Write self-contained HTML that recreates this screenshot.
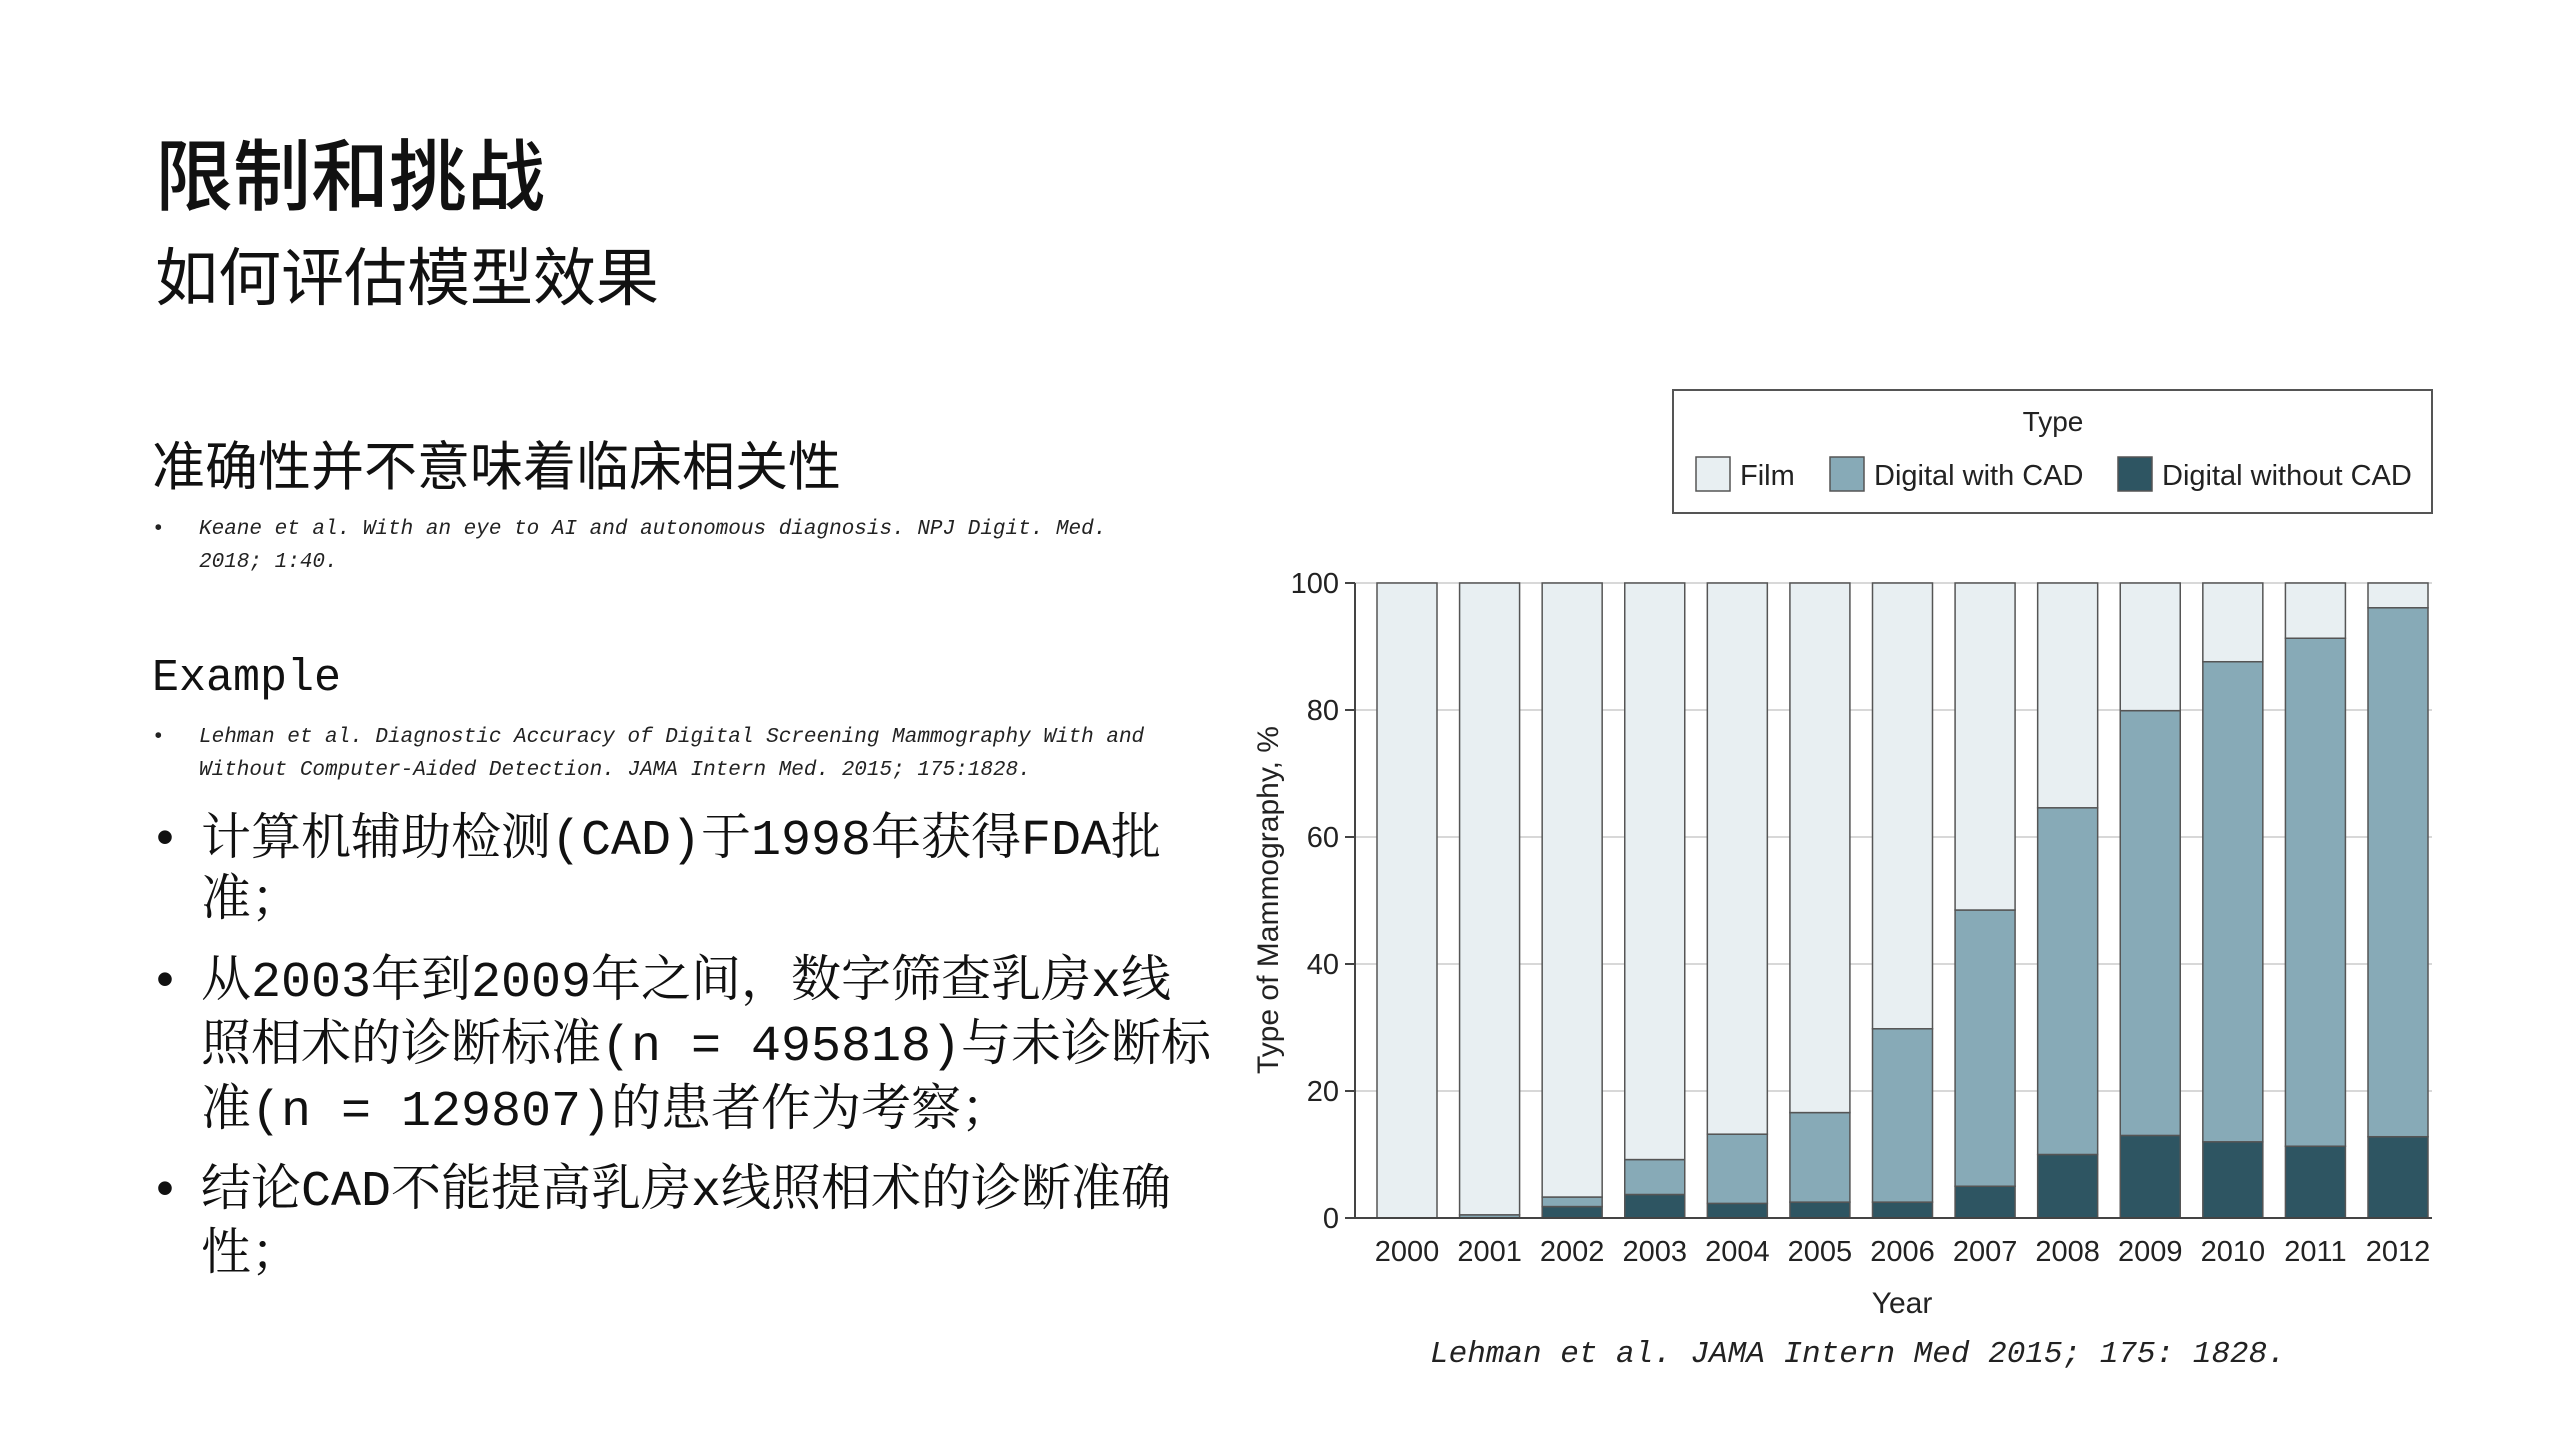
<!DOCTYPE html>
<html><head><meta charset="utf-8"><style>
html,body{margin:0;padding:0;background:#fff;}
svg{display:block;}
.cjk{font-family:"Liberation Mono","Noto Serif CJK SC",serif;fill:#111;}
.ref{font-family:"Liberation Mono",monospace;font-style:italic;font-size:21px;fill:#222;}
.ax{font-family:"Liberation Sans","DejaVu Sans",sans-serif;fill:#222;}
</style></head><body>
<svg id="page" width="2560" height="1440" viewBox="0 0 2560 1440">
<text x="155" y="204" class="cjk" font-size="78" style="font-family:'Noto Sans CJK SC',sans-serif;font-weight:500">限制和挑战</text>
<text x="155" y="300" class="cjk" font-size="63" style="font-family:'Noto Sans CJK SC',sans-serif">如何评估模型效果</text>
<text x="152" y="485" class="cjk" font-size="53" style="font-family:'Noto Sans CJK SC',sans-serif">准确性并不意味着临床相关性</text>
<g>
<text x="152" y="534" class="ref" style="font-style:normal">•</text>
<text x="199" y="534" class="ref">Keane et al. With an eye to AI and autonomous diagnosis. NPJ Digit. Med.</text>
<text x="199" y="567" class="ref">2018; 1:40.</text>
</g>
<text x="152" y="690" font-size="45" style="font-family:'Liberation Mono',monospace;fill:#111">Example</text>
<g>
<text x="152" y="742" class="ref" style="font-style:normal">•</text>
<text x="199" y="742" class="ref">Lehman et al. Diagnostic Accuracy of Digital Screening Mammography With and</text>
<text x="199" y="775" class="ref">Without Computer-Aided Detection. JAMA Intern Med. 2015; 175:1828.</text>
</g>
<g class="cjk" font-size="50">
<text x="150" y="854">•</text>
<text x="201" y="854">计算机辅助检测(CAD)于1998年获得FDA批</text>
<text x="201" y="915">准；</text>
<text x="150" y="996">•</text>
<text x="201" y="996">从2003年到2009年之间，数字筛查乳房x线</text>
<text x="201" y="1060">照相术的诊断标准(n = 495818)与未诊断标</text>
<text x="201" y="1125">准(n = 129807)的患者作为考察；</text>
<text x="150" y="1205">•</text>
<text x="201" y="1205">结论CAD不能提高乳房x线照相术的诊断准确</text>
<text x="201" y="1269">性；</text>
</g>
<g>
<rect x="1673" y="390" width="759" height="123" fill="#fff" stroke="#555" stroke-width="2"/>
<text x="2053" y="431" class="ax" font-size="28" text-anchor="middle">Type</text>
<rect x="1696" y="457" width="34" height="34" fill="#e8eff2" stroke="#555" stroke-width="1.5"/>
<text x="1740" y="485" class="ax" font-size="29">Film</text>
<rect x="1830" y="457" width="34" height="34" fill="#87aab7" stroke="#555" stroke-width="1.5"/>
<text x="1874" y="485" class="ax" font-size="29">Digital with CAD</text>
<rect x="2118" y="457" width="34" height="34" fill="#2e5562" stroke="#555" stroke-width="1.5"/>
<text x="2162" y="485" class="ax" font-size="29">Digital without CAD</text>
</g>
<g id="chart"></g>
<text x="1430" y="1362" font-size="31" style="font-family:'Liberation Mono',monospace;font-style:italic;fill:#222">Lehman et al. JAMA Intern Med 2015; 175: 1828.</text>
</svg>
<script>
const years = ['2000','2001','2002','2003','2004','2005','2006','2007','2008','2009','2010','2011','2012'];
const noCad = [0,0,1.8,3.7,2.3,2.5,2.5,5,10,13,12,11.3,12.8];
const withCad = [0,0.5,1.5,5.5,10.9,14.1,27.3,43.5,54.6,66.9,75.6,80,83.3];
const film = [100,99.5,96.7,90.8,86.8,83.4,70.2,51.5,35.4,20.1,12.4,8.7,3.9];
const yTicks = [0,20,40,60,80,100];

const NS='http://www.w3.org/2000/svg';
const g=document.getElementById('chart');
const X0=1355,X1=2432,Y0=1218,Y100=583;
const FIRST=1407,LAST=2398;
const step=(LAST-FIRST)/(years.length-1), bw=60;
const y=v=>Y0-(v/100)*(Y0-Y100);
const xc=i=>FIRST+step*i;
function mk(tag,attrs){const e=document.createElementNS(NS,tag);for(const k in attrs)e.setAttribute(k,attrs[k]);g.appendChild(e);return e;}
yTicks.forEach(t=>{
  const l=mk('line',{x1:X0,x2:X1,y1:y(t),y2:y(t),stroke:'#d8d8d8','stroke-width':2});
  
  
  const tk=mk('line',{x1:X0-10,x2:X0,y1:y(t),y2:y(t),stroke:'#444','stroke-width':2});
  
  
  const tx=mk('text',{x:X0-16,y:y(t)+10,'text-anchor':'end','font-size':29,class:'ax'});
  tx.textContent=t;
  
  
});
const series=[[noCad,'#2e5562','nocad'],[withCad,'#87aab7','cad'],[film,'#e8eff2','film']];
years.forEach((yr,i)=>{
  let base=0;
  series.forEach(([arr,col,nm])=>{
    const v=arr[i];
    if(v>0){
      const r=mk('rect',{x:xc(i)-bw/2,y:y(base+v),width:bw,height:y(base)-y(base+v),fill:col,stroke:'#555','stroke-width':1.5});
      
      
    }
    base+=v;
  });
  const tx=mk('text',{x:xc(i),y:Y0+43,'text-anchor':'middle','font-size':29,class:'ax'});
  tx.textContent=yr;
  
  
});
const ax=mk('line',{x1:X0,x2:X0,y1:Y100,y2:Y0,stroke:'#444','stroke-width':2});


const bx=mk('line',{x1:X0,x2:X1,y1:Y0,y2:Y0,stroke:'#444','stroke-width':2});


const xt=mk('text',{x:1902,y:1313,'text-anchor':'middle','font-size':30,class:'ax'});
xt.textContent='Year';


const yt=mk('text',{x:0,y:0,'text-anchor':'middle','font-size':30,class:'ax',transform:'translate(1278,900) rotate(-90)'});
yt.textContent='Type of Mammography, %';


</script>
</body></html>
